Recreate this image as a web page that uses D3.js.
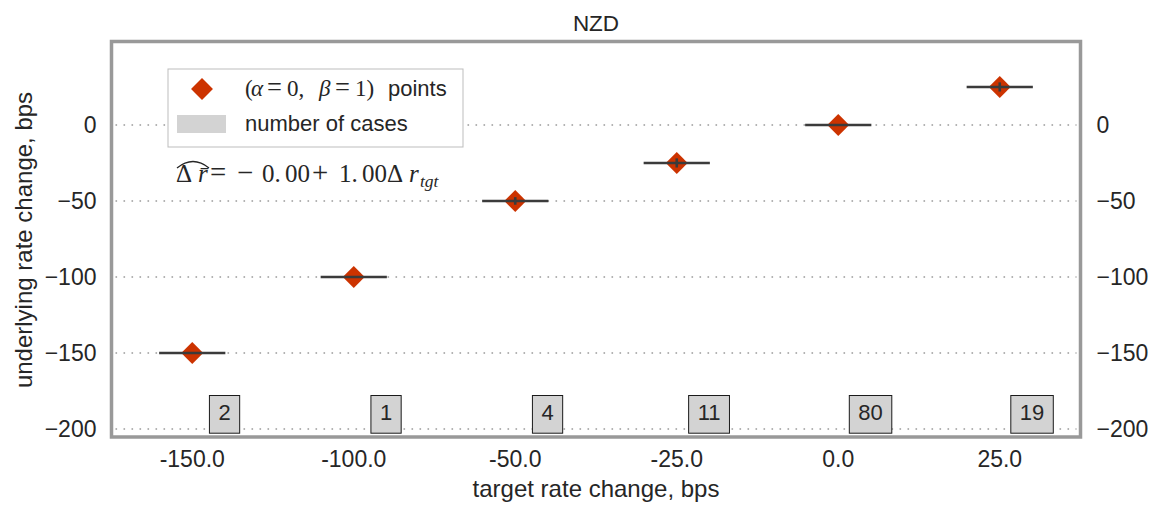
<!DOCTYPE html>
<html>
<head>
<meta charset="utf-8">
<script src="https://cdn.jsdelivr.net/npm/d3@7"></script>
<style>
  body { margin: 0; background: #fff; }
  text { font-family: "Liberation Sans", Arial, sans-serif; fill: #262626; }
  .math { font-family: "Liberation Serif", "Times New Roman", serif; }
</style>
</head>
<body>
<svg id="chart" width="1158" height="509"></svg>
<script>
// data
const targetLabels = ["-150.0", "-100.0", "-50.0", "-25.0", "0.0", "25.0"];
const underlyingMean = [-150, -100, -50, -25, 0, 25];
const underlyingSpread = [0, 0, 2.5, 3, 0, 3];
const caseCounts = [2, 1, 4, 11, 80, 19];
const yTicks = [0, -50, -100, -150, -200];

const svg = d3.select("#chart");
const frame = { left: 111.5, right: 1080.5, top: 41.5, bottom: 437 };
const tickSize = 23;
const labelSize = 24;
const legendSize = 22;

// scales
const x = d3.scaleBand()
  .domain(targetLabels)
  .range([frame.left, frame.right])
  .padding(0);
const bw = x.bandwidth();
const cx = l => x(l) + bw / 2;

const y = d3.scaleLinear()
  .domain([-205.3, 54.9])
  .range([frame.bottom, frame.top]);

// dotted grid
svg.append("g").selectAll("line")
  .data(yTicks)
  .join("line")
  .attr("x1", frame.left + 4).attr("x2", frame.right - 4)
  .attr("y1", d => y(d)).attr("y2", d => y(d))
  .attr("stroke", "#9a9a9a")
  .attr("stroke-width", 1.6)
  .attr("stroke-dasharray", "1.6,6.4");

// y axes on both sides
const fmtY = d => d3.format("d")(d).replace("-", "\u2212");
const yLeft = svg.append("g")
  .attr("transform", `translate(${frame.left},0)`)
  .call(d3.axisLeft(y).tickValues(yTicks).tickSize(0).tickPadding(15).tickFormat(fmtY));
const yRight = svg.append("g")
  .attr("transform", `translate(${frame.right},0)`)
  .call(d3.axisRight(y).tickValues(yTicks).tickSize(0).tickPadding(16).tickFormat(fmtY));
[yLeft, yRight].forEach(g => {
  g.select(".domain").remove();
  g.selectAll("text").attr("font-size", tickSize).attr("font-family", null).attr("fill", "#262626");
});

// x axis
const xAxis = svg.append("g")
  .attr("transform", `translate(0,${frame.bottom})`)
  .call(d3.axisBottom(x).tickSize(0).tickPadding(14));
xAxis.select(".domain").remove();
xAxis.selectAll("text").attr("font-size", tickSize).attr("font-family", null).attr("fill", "#262626");

// legend
const legend = svg.append("g");
legend.append("rect")
  .attr("x", 168).attr("y", 69).attr("width", 295).attr("height", 78)
  .attr("fill", "#fff").attr("stroke", "#bdbdbd").attr("stroke-width", 1);
legend.append("path")
  .attr("d", d3.symbol(d3.symbolSquare, 240)())
  .attr("transform", "translate(202,89) rotate(45)")
  .attr("fill", "#cc3300");
legend.append("rect")
  .attr("x", 177).attr("y", 115).attr("width", 49).attr("height", 18)
  .attr("fill", "#d3d3d3");

// mathtext-like pieces, placed one by one
function mathLine(parent, y0, pieces, size) {
  const t = parent.append("text").attr("y", y0).attr("font-size", size);
  pieces.forEach(p => {
    const s = t.append("tspan").attr("x", p.x).text(p.t);
    if (p.serif !== false) s.attr("class", "math");
    else s.attr("font-size", legendSize);
    if (p.it) s.attr("font-style", "italic");
    if (p.op) s.attr("font-size", size * 1.15);
    if (p.sub) s.attr("font-size", size * 0.7).attr("dy", 5);
  });
  return t;
}
mathLine(legend, 96, [
  { x: 245, t: "(" }, { x: 251, t: "α", it: true }, { x: 267, t: "=", op: true },
  { x: 287, t: "0," }, { x: 319, t: "β", it: true }, { x: 335, t: "=", op: true },
  { x: 355, t: "1)" }, { x: 388, t: "points", serif: false }
], 23);
legend.append("text").attr("x", 245).attr("y", 131).attr("font-size", legendSize)
  .text("number of cases");

// regression equation with white bbox
const eq = svg.append("g");
eq.append("rect")
  .attr("x", 163).attr("y", 153).attr("width", 282).attr("height", 46)
  .attr("fill", "#fff");
mathLine(eq, 182, [
  { x: 176, t: "Δ" }, { x: 198, t: "r\u0304", it: true }, { x: 210, t: "=", op: true },
  { x: 237, t: "−", op: true }, { x: 262, t: "0." }, { x: 285, t: "00" },
  { x: 312, t: "+", op: true }, { x: 339, t: "1." }, { x: 362, t: "00" },
  { x: 387, t: "Δ" }, { x: 409, t: "r", it: true }, { x: 420, t: "tgt", it: true, sub: true }
], 25);
eq.append("path")
  .attr("d", "M177,168 Q193,155 209,168")
  .attr("fill", "none").attr("stroke", "#262626").attr("stroke-width", 1.3);

// points
const rows = targetLabels.map((l, i) => ({
  label: l, mean: underlyingMean[i], spread: underlyingSpread[i], n: caseCounts[i]
}));

svg.append("g").selectAll("path")
  .data(rows)
  .join("path")
  .attr("d", d3.symbol(d3.symbolSquare, 240)())
  .attr("transform", d => `translate(${cx(d.label)},${y(d.mean)}) rotate(45)`)
  .attr("fill", "#cc3300");

const half = 0.205 * bw;
const marks = svg.append("g").attr("stroke", "#3b3b3b").attr("stroke-width", 2.6);
marks.selectAll("line.h")
  .data(rows)
  .join("line")
  .attr("class", "h")
  .attr("x1", d => cx(d.label) - half).attr("x2", d => cx(d.label) + half)
  .attr("y1", d => y(d.mean)).attr("y2", d => y(d.mean));
marks.selectAll("line.v")
  .data(rows.filter(d => d.spread > 0))
  .join("line")
  .attr("class", "v")
  .attr("x1", d => cx(d.label)).attr("x2", d => cx(d.label))
  .attr("y1", d => y(d.mean - d.spread)).attr("y2", d => y(d.mean + d.spread));

// number of cases boxes
const counts = svg.append("g").selectAll("g")
  .data(rows)
  .join("g");
counts.append("text")
  .attr("x", d => cx(d.label) + 0.2 * bw)
  .attr("y", y(-194.3))
  .attr("text-anchor", "middle")
  .attr("font-size", legendSize)
  .text(d => d.n);
counts.each(function () {
  const g = d3.select(this);
  const b = g.select("text").node().getBBox();
  g.insert("rect", "text")
    .attr("x", b.x - 9).attr("width", b.width + 18)
    .attr("y", y(-178)).attr("height", y(-202.8) - y(-178))
    .attr("fill", "#d3d3d3").attr("stroke", "#1a1a1a").attr("stroke-width", 1);
});

// frame
svg.append("rect")
  .attr("x", frame.left).attr("y", frame.top)
  .attr("width", frame.right - frame.left).attr("height", frame.bottom - frame.top)
  .attr("fill", "none").attr("stroke", "#999").attr("stroke-width", 3.5);

// titles
svg.append("text")
  .attr("x", (frame.left + frame.right) / 2).attr("y", 31)
  .attr("text-anchor", "middle").attr("font-size", 22.5)
  .text("NZD");
svg.append("text")
  .attr("x", (frame.left + frame.right) / 2).attr("y", 497)
  .attr("text-anchor", "middle").attr("font-size", labelSize)
  .text("target rate change, bps");
svg.append("text")
  .attr("transform", "translate(32,240) rotate(-90)")
  .attr("text-anchor", "middle").attr("font-size", labelSize)
  .text("underlying rate change, bps");
</script>
</body>
</html>
